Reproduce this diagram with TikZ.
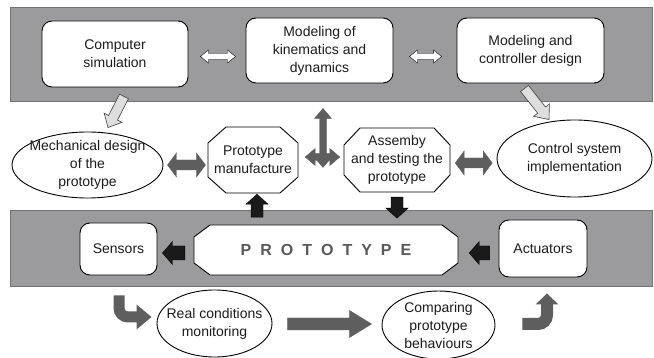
\documentclass[tikz,border=0pt]{standalone}
\usepackage{fontspec}
\setmainfont{Liberation Sans}
\usetikzlibrary{shapes.geometric,calc,arrows.meta}

\definecolor{bandgray}{RGB}{155,155,157}
\definecolor{arrowdark}{RGB}{94,94,94}
\definecolor{arrowlight}{RGB}{222,222,222}
\definecolor{arrowblack}{RGB}{26,26,26}
\definecolor{txt}{RGB}{28,28,28}

% block arrow: style, from, to, shaft half width, head half width, head length
\newcommand{\fatarrow}[6]{%
  \path (#2) coordinate (fa-a) (#3) coordinate (fa-b);
  \coordinate (fa-p) at ($(fa-b)!#6!(fa-a)$);
  \draw[#1] ($(fa-a)!#4!90:(fa-b)$) -- ($(fa-p)!#4!90:(fa-b)$) -- ($(fa-p)!#5!90:(fa-b)$)
    -- (fa-b) -- ($(fa-p)!#5!-90:(fa-b)$) -- ($(fa-p)!#4!-90:(fa-b)$) -- ($(fa-a)!#4!-90:(fa-b)$) -- cycle;}
\newcommand{\fatdarrow}[6]{%
  \path (#2) coordinate (fa-a) (#3) coordinate (fa-b);
  \coordinate (fa-p) at ($(fa-a)!#6!(fa-b)$);
  \coordinate (fa-q) at ($(fa-b)!#6!(fa-a)$);
  \draw[#1] (fa-a) -- ($(fa-p)!#5!90:(fa-b)$) -- ($(fa-p)!#4!90:(fa-b)$) -- ($(fa-q)!#4!90:(fa-b)$)
    -- ($(fa-q)!#5!90:(fa-b)$) -- (fa-b) -- ($(fa-q)!#5!-90:(fa-b)$) -- ($(fa-q)!#4!-90:(fa-b)$)
    -- ($(fa-p)!#4!-90:(fa-b)$) -- ($(fa-p)!#5!-90:(fa-b)$) -- cycle;}
% octagon node: options, name, centre, width, height, cut x, cut y, text
\newcommand{\octanode}[8][]{%
  \coordinate (#2-c) at (#3);
  \draw[octa line] ($(#2-c)+(-#4/2+#6,-#5/2)$) -- ($(#2-c)+(#4/2-#6,-#5/2)$) -- ($(#2-c)+(#4/2,-#5/2+#7)$)
    -- ($(#2-c)+(#4/2,#5/2-#7)$) -- ($(#2-c)+(#4/2-#6,#5/2)$) -- ($(#2-c)+(-#4/2+#6,#5/2)$)
    -- ($(#2-c)+(-#4/2,#5/2-#7)$) -- ($(#2-c)+(-#4/2,-#5/2+#7)$) -- cycle;
  \node[octa node,minimum width=#4,minimum height=#5,#1] (#2) at (#2-c) {#8};}

\begin{document}
\begin{tikzpicture}[x=1pt,y=-1pt,
    box node/.style={rectangle,rounded corners=10pt,draw,line width=0.9pt,fill=white,
      align=center,text=txt,font=\fontsize{14}{18}\selectfont},
    oval node/.style={ellipse,draw,line width=0.9pt,fill=white,inner sep=0pt},
    oval text/.style={align=center,text=txt,font=\fontsize{14}{18}\selectfont},
    octa line/.style={draw,line width=0.9pt,fill=white},
    octa node/.style={rectangle,inner sep=1pt,align=center,text=txt,font=\fontsize{14}{18}\selectfont},
    white arrow/.style={fill=white},
    light arrow/.style={fill=arrowlight,draw=black!75,line width=0.6pt},
    dark arrow/.style={fill=arrowdark,draw=arrowdark,line width=0.4pt},
    black arrow/.style={fill=arrowblack},
    bent arrow/.style={draw=arrowdark,line width=11pt,rounded corners=9pt}]
    \useasboundingbox (0,0) rectangle (654,358);
    \fill[bandgray,draw=black!55,line width=0.6pt] (10,7) rectangle (652,101);
    \fill[bandgray,draw=black!55,line width=0.6pt] (10,210) rectangle (652,286);

    \node[box node,minimum width=146,minimum height=66] (sim) at (115,54) {Computer\\simulation};
    \node[box node,minimum width=147,minimum height=65] (kin) at (319.5,50.5) {Modeling of\\kinematics and\\dynamics};
    \node[box node,minimum width=147,minimum height=65] (ctl) at (530.5,50.5) {Modeling and\\controller design};
    \node[oval node,minimum width=151,minimum height=66,
      label={[oval text]center:Mechanical design\\of the\\prototype}] (mech) at (87.5,165) {};
    \octanode{man}{253,160}{90}{66}{18}{16}{Prototype\\manufacture}
    \octanode{asm}{397,160}{106}{64}{16}{17}{Assemby\\and testing the\\prototype}
    \node[oval node,minimum width=155,minimum height=77,
      label={[oval text]center:Control system\\implementation}] (cs) at (574.5,158.5) {};
    \node[box node,minimum width=77,minimum height=52] (sens) at (118.5,249) {Sensors};
    \octanode[text=black!65,font=\bfseries\fontsize{16}{19}\selectfont]{proto}{326,250}{264}{50}{16}{12}{\spaceskip=9pt P R O T O T Y P E}
    \node[box node,minimum width=88,minimum height=57] (act) at (543,248.5) {Actuators};
    \node[oval node,minimum width=115,minimum height=67,
      label={[oval text]center:Real conditions\\monitoring}] (real) at (214.5,323.5) {};
    \node[oval node,minimum width=113,minimum height=68,
      label={[oval text]center:Comparing\\prototype\\behaviours}] (cmp) at (438.5,325) {};

    \fatdarrow{white arrow}{$(sim.east)+(12,2.5)$}{$(sim.east)+(47,2.5)$}{3pt}{6.5pt}{8pt}
    \fatdarrow{white arrow}{$(kin.east)+(16,6)$}{$(ctl.west)+(-15,6)$}{3pt}{6.5pt}{8pt}
    \fatarrow{light arrow}{$(sim.south)+(9,9)$}{$(mech.north)+(20.5,-4)$}{5pt}{10pt}{11pt}
    \fatarrow{light arrow}{$(ctl.south)+(-6,5)$}{$(cs.north)+(-25.5,0)$}{5pt}{10pt}{12pt}
    \fatdarrow{dark arrow}{$(mech.east)+(4,0)$}{$(mech.east)+(42,0)$}{5pt}{12pt}{9pt}
    \fatdarrow{dark arrow}{$(asm.east)+(5,3)$}{$(asm.east)+(42,3)$}{5pt}{12pt}{9pt}
    \fatdarrow{dark arrow}{$(kin.south)+(3.5,25)$}{$(kin.south)+(3.5,84)$}{3.5pt}{8.5pt}{10pt}
    \fatdarrow{dark arrow}{$(man.east)+(7,-3)$}{$(asm.west)+(-4,-3)$}{3.5pt}{8.5pt}{10pt}
    \fatarrow{black arrow}{$(man.south)+(4,24)$}{$(man.south)+(4,1)$}{6pt}{11pt}{10pt}
    \fatarrow{black arrow}{$(asm.south)+(0,5)$}{$(asm.south)+(0,26)$}{6pt}{11pt}{10pt}
    \fatarrow{black arrow}{$(proto.west)+(-9,3)$}{$(sens.east)+(5,4)$}{7pt}{11.5pt}{10pt}
    \fatarrow{black arrow}{$(act.west)+(-9,4.5)$}{$(proto.east)+(11,3)$}{7pt}{11.5pt}{10pt}
    \fatarrow{dark arrow}{$(real.east)+(15,0.5)$}{$(cmp.west)+(-10,-1)$}{6pt}{13.5pt}{22pt}
    \draw[bent arrow,-{Triangle[length=15pt,width=24pt]}] ($(sens.south)+(0.5,20)$) |- ($(real.west)+(-5,-6.5)$);
    \draw[bent arrow,line width=12pt,-{Triangle[length=11pt,width=22pt]}] ($(cmp.east)+(27,-1)$) -| ($(act.south)+(4,16)$);
\end{tikzpicture}
\end{document}
